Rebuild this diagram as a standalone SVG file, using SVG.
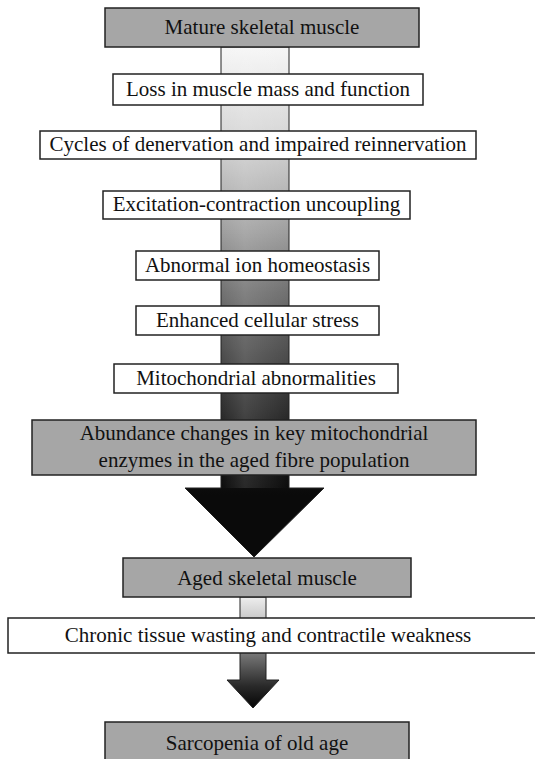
<svg xmlns="http://www.w3.org/2000/svg" width="535" height="759" viewBox="0 0 535 759">
<defs>
<linearGradient id="bigGrad" gradientUnits="userSpaceOnUse" x1="0" y1="47" x2="0" y2="495">
<stop offset="0" stop-color="#f6f6f6"/>
<stop offset="0.2" stop-color="#d6d6d6"/>
<stop offset="0.4" stop-color="#a2a2a2"/>
<stop offset="0.55" stop-color="#707070"/>
<stop offset="0.72" stop-color="#444444"/>
<stop offset="0.88" stop-color="#1c1c1c"/>
<stop offset="1" stop-color="#0a0a0a"/>
</linearGradient>
<linearGradient id="smallGrad" gradientUnits="userSpaceOnUse" x1="0" y1="597" x2="0" y2="708">
<stop offset="0" stop-color="#eeeeee"/>
<stop offset="0.2" stop-color="#c8c8c8"/>
<stop offset="0.5" stop-color="#7a7a7a"/>
<stop offset="0.8" stop-color="#2a2a2a"/>
<stop offset="1" stop-color="#050505"/>
</linearGradient>
<linearGradient id="sheen" x1="0" y1="0" x2="1" y2="0">
<stop offset="0" stop-color="#ffffff" stop-opacity="0"/>
<stop offset="0.35" stop-color="#ffffff" stop-opacity="0.12"/>
<stop offset="1" stop-color="#ffffff" stop-opacity="0"/>
</linearGradient>
</defs>
<style>
.gray{fill:#a6a6a6;stroke:#222;stroke-width:1.5}
.white{fill:#ffffff;stroke:#222;stroke-width:1.5}
.arrow{stroke:#222;stroke-width:1}
.lbl{font-family:'Liberation Serif','DejaVu Serif',serif;font-size:21px;fill:#111;text-anchor:middle}
</style>
<g id="connectors">
<polygon class="arrow" fill="url(#bigGrad)" points="221,47 289,47 289,488 324,488 254,557 185,488 221,488"/>
<rect x="221" y="47" width="68" height="441" fill="url(#sheen)"/>
<polygon class="arrow" fill="url(#smallGrad)" points="240,597 266,597 266,680 279,680 253,708 227,680 240,680"/>
</g>
<g font-family="Liberation Serif, DejaVu Serif, serif">
<g id="mature"><rect class="gray" x="105" y="8" width="314" height="39"/><text class="lbl" x="262" y="34">Mature skeletal muscle</text></g>
<g id="loss"><rect class="white" x="113" y="74" width="310" height="31"/><text class="lbl" x="268" y="96">Loss in muscle mass and function</text></g>
<g id="cycles"><rect class="white" x="40" y="131" width="436" height="28"/><text class="lbl" x="258" y="151">Cycles of denervation and impaired reinnervation</text></g>
<g id="excitation"><rect class="white" x="103" y="191" width="307" height="28"/><text class="lbl" x="256.5" y="211">Excitation-contraction uncoupling</text></g>
<g id="ion"><rect class="white" x="136" y="251" width="243" height="29"/><text class="lbl" x="257.5" y="272">Abnormal ion homeostasis</text></g>
<g id="stress"><rect class="white" x="136" y="306" width="243" height="29"/><text class="lbl" x="257.5" y="327">Enhanced cellular stress</text></g>
<g id="mito"><rect class="white" x="114" y="364" width="284" height="29"/><text class="lbl" x="256" y="385">Mitochondrial abnormalities</text></g>
<g id="abundance"><rect class="gray" x="32" y="420" width="444" height="55"/><text class="lbl" x="254" y="440">Abundance changes in key mitochondrial</text><text class="lbl" x="254" y="467">enzymes in the aged fibre population</text></g>
<g id="aged"><rect class="gray" x="123" y="558" width="288" height="39"/><text class="lbl" x="267" y="585">Aged skeletal muscle</text></g>
<g id="chronic"><rect class="white" x="8" y="618" width="540" height="35"/><text class="lbl" x="268" y="642">Chronic tissue wasting and contractile weakness</text></g>
<g id="sarcopenia"><rect class="gray" x="105" y="722" width="304" height="45"/><text class="lbl" x="257" y="750">Sarcopenia of old age</text></g>
</g>
</svg>
